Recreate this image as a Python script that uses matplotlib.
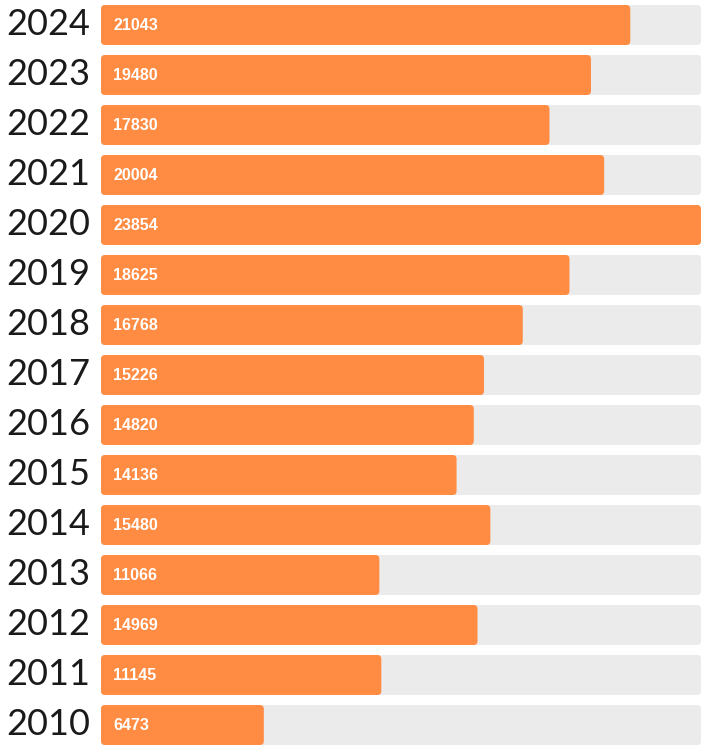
import matplotlib
matplotlib.use("Agg")
import matplotlib.pyplot as plt
from matplotlib.patches import FancyBboxPatch

years = ["2024", "2023", "2022", "2021", "2020", "2019", "2018", "2017",
         "2016", "2015", "2014", "2013", "2012", "2011", "2010"]
counts = [21043, 19480, 17830, 20004, 23854, 18625, 16768, 15226,
          14820, 14136, 15480, 11066, 14969, 11145, 6473]

W, H = 707, 755
fig = plt.figure(figsize=(W / 100, H / 100), dpi=100)
ax = fig.add_axes([101 / W, 5 / H, 600 / W, 750 / H])

vmax = max(counts)
ax.set_xlim(0, vmax)
ax.set_ylim(len(years) - 0.5, -0.5)
ax.axis("off")

# keep the corners round even though x and y scales differ
px_x = vmax / 600.0
px_y = 1 / 50.0
radius = 4 * px_x
aspect = px_y / px_x
bar_h = 0.8

orange = "#FF8C42"
track = "#EBEBEB"

for i, (yr, v) in enumerate(zip(years, counts)):
    ax.add_patch(FancyBboxPatch((0, i - bar_h / 2), vmax, bar_h,
                                boxstyle=f"round,pad=0,rounding_size={radius}",
                                mutation_aspect=aspect, fc=track, ec="none"))
    ax.add_patch(FancyBboxPatch((0, i - bar_h / 2), v, bar_h,
                                boxstyle=f"round,pad=0,rounding_size={radius}",
                                mutation_aspect=aspect, fc=orange, ec="none"))
    ax.annotate(str(v), xy=(0, i), xytext=(12 * 0.72, 0), textcoords="offset points",
                ha="left", va="center", color="white", fontsize=11.5,
                fontweight="bold", family="Liberation Sans")
    ax.annotate(yr, xy=(0, i), xycoords=("axes fraction", "data"),
                xytext=(-11 * 0.72, -10 * 0.72), textcoords="offset points",
                ha="right", va="baseline", color="#1a1a1a", fontsize=26,
                family="Lato")

fig.savefig("out.png", dpi=100)
